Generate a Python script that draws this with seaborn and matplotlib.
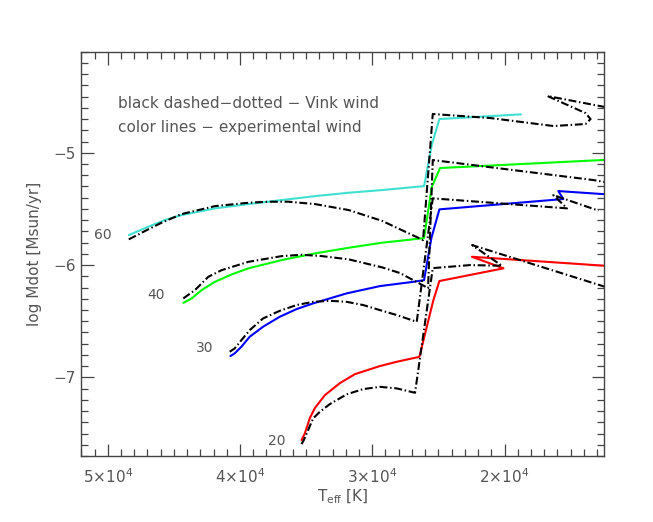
import matplotlib
matplotlib.use("Agg")
import matplotlib.pyplot as plt
import seaborn as sns
import pandas as pd
import numpy as np
from matplotlib.ticker import MultipleLocator, FixedLocator, FixedFormatter

# ---- data (Teff [K], log Mdot [Msun/yr]) ----
# 60 Msun
teff_60_exp = [48409, 46939, 45682, 44417, 41894, 39363, 36841, 34318, 31787, 29265, 26083, 25499, 24924, 18757]
mdot_60_exp = [-5.733, -5.659, -5.599, -5.555, -5.495, -5.457, -5.421, -5.386, -5.356, -5.332, -5.297, -4.931, -4.700, -4.658]
teff_60_vink = [48409, 46939, 45932, 44417, 41894, 39363, 37848, 36333, 34318, 31787, 29265, 26159, 25424, 21067, 16295, 13870, 13492, 13870, 16749, 12300]
mdot_60_vink = [-5.771, -5.682, -5.623, -5.546, -5.475, -5.445, -5.436, -5.436, -5.457, -5.510, -5.606, -5.777, -4.655, -4.691, -4.762, -4.744, -4.700, -4.647, -4.495, -4.595]

# 40 Msun
teff_40_exp = [44288, 43659, 42901, 41894, 40629, 39363, 36841, 34318, 31787, 29265, 26083, 25499, 24871, 12300]
mdot_40_exp = [-6.336, -6.297, -6.223, -6.149, -6.083, -6.029, -5.955, -5.896, -5.846, -5.801, -5.760, -5.305, -5.136, -5.063]
teff_40_vink = [44288, 43409, 42394, 41386, 39363, 36841, 35325, 33810, 31787, 29265, 27901, 25780, 25424, 13280, 12300]
mdot_40_vink = [-6.297, -6.223, -6.104, -6.045, -5.971, -5.920, -5.908, -5.920, -5.949, -6.020, -6.071, -6.205, -5.065, -5.243, -5.263]

# 30 Msun
teff_30_exp = [40727, 40401, 39894, 39265, 38257, 36992, 35727, 34470, 31939, 29417, 26894, 26083, 25530, 24924, 15553, 15932, 12300]
mdot_30_exp = [-6.810, -6.786, -6.727, -6.638, -6.549, -6.460, -6.392, -6.341, -6.252, -6.187, -6.149, -6.134, -5.760, -5.504, -5.412, -5.341, -5.370]
teff_30_vink = [40780, 40401, 39894, 39265, 38257, 36992, 35727, 34470, 33204, 31939, 30681, 29417, 28151, 26636, 25424, 15272, 16310, 12900]
mdot_30_vink = [-6.772, -6.742, -6.668, -6.579, -6.475, -6.407, -6.356, -6.327, -6.318, -6.327, -6.356, -6.401, -6.445, -6.505, -5.406, -5.495, -5.377, -5.515]

# 20 Msun
teff_20_exp = [35348, 35098, 34719, 34340, 33583, 32447, 31310, 29417, 28151, 26439, 25378, 24924, 20076, 22469, 12300]
mdot_20_exp = [-7.558, -7.499, -7.362, -7.273, -7.158, -7.051, -6.971, -6.899, -6.861, -6.817, -6.312, -6.142, -6.029, -5.926, -6.007]
teff_20_vink = [35348, 35174, 34848, 34470, 33962, 33207, 31939, 30681, 29417, 28151, 26765, 25424, 22598, 20197, 22447, 12300]
mdot_20_vink = [-7.594, -7.558, -7.469, -7.365, -7.306, -7.238, -7.151, -7.104, -7.084, -7.098, -7.137, -6.027, -6.000, -6.006, -5.822, -6.197]

masses = ["60", "40", "30", "20"]
colors = {"60": "#40e0d0", "40": "#00ff00", "30": "#0000ff", "20": "#ff0000"}
exp_data = {"60": (teff_60_exp, mdot_60_exp), "40": (teff_40_exp, mdot_40_exp),
            "30": (teff_30_exp, mdot_30_exp), "20": (teff_20_exp, mdot_20_exp)}
vink_data = {"60": (teff_60_vink, mdot_60_vink), "40": (teff_40_vink, mdot_40_vink),
             "30": (teff_30_vink, mdot_30_vink), "20": (teff_20_vink, mdot_20_vink)}
label_pos = {"60": (50402, -5.733), "40": (46311, -6.268), "30": (42674, -6.736), "20": (37242, -7.565)}

legend_lines = ["black dashed\u2212dotted \u2212 Vink wind", "color lines \u2212 experimental wind"]

xticks = [50000, 40000, 30000, 20000]
xticklabels = ["5\u00d710$^4$", "4\u00d710$^4$", "3\u00d710$^4$", "2\u00d710$^4$"]
yticks = [-7, -6, -5]
yticklabels = ["\u22127", "\u22126", "\u22125"]

# ---- plot ----
sns.set_style("white")
plt.rcParams['font.family'] = ['DejaVu Sans']
txt = "#555555"
frame = "#444444"

fig = plt.figure(figsize=(6.53, 5.22), dpi=100)
ax = fig.add_axes([0.1245, 0.1264, 0.8, 0.7746])

for m in masses:
    t, y = exp_data[m]
    df = pd.DataFrame({"Teff": t, "logMdot": y})
    sns.lineplot(data=df, x="Teff", y="logMdot", sort=False, estimator=None,
                 color=colors[m], lw=1.5, ax=ax)
for m in masses:
    t, y = vink_data[m]
    df = pd.DataFrame({"Teff": t, "logMdot": y})
    sns.lineplot(data=df, x="Teff", y="logMdot", sort=False, estimator=None,
                 color="black", lw=1.5, ax=ax, dashes=False)
    ax.lines[-1].set_dashes((3.8, 1.3, 0.7, 1.3))

for m in masses:
    x, y = label_pos[m]
    ax.text(x, y, m, color=txt, fontsize=10, ha="center", va="center")

ax.text(49258, -4.557, legend_lines[0], color=txt, fontsize=11, ha="left", va="center")
ax.text(49258, -4.771, legend_lines[1], color=txt, fontsize=11, ha="left", va="center")

ax.set_xlim(52000, 12500)
ax.set_ylim(-7.7, -4.1)
ax.xaxis.set_major_locator(FixedLocator(xticks))
ax.xaxis.set_major_formatter(FixedFormatter(xticklabels))
ax.xaxis.set_minor_locator(MultipleLocator(1000))
ax.yaxis.set_major_locator(FixedLocator(yticks))
ax.yaxis.set_major_formatter(FixedFormatter(yticklabels))
ax.yaxis.set_minor_locator(MultipleLocator(0.1))

ax.tick_params(which="both", direction="in", top=True, right=True, bottom=True, left=True,
               color=frame, labelcolor=txt, labelsize=11, width=0.9)
ax.tick_params(which="major", length=9)
ax.tick_params(which="minor", length=5)
ax.tick_params(axis="x", which="major", pad=8)
ax.tick_params(axis="y", which="major", pad=4)
for s in ax.spines.values():
    s.set_color(frame)
    s.set_linewidth(1.0)
    s.set_visible(True)

ax.set_xlabel("T$_{\\rm eff}$ [K]", color=txt, fontsize=11, labelpad=1)
ax.set_ylabel("log Mdot [Msun/yr]", color=txt, fontsize=11, labelpad=8)

fig.savefig("out.png", dpi=100)
